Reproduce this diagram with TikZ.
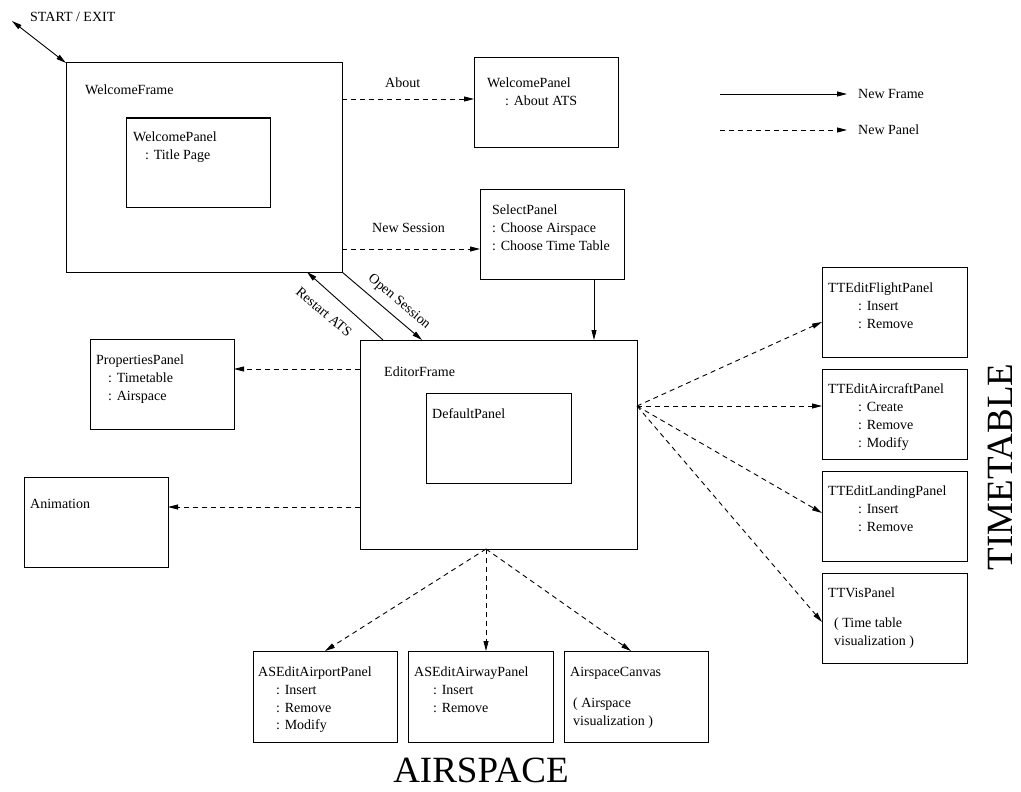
\documentclass[tikz,border=0pt]{standalone}
\usepackage{fontspec}
\setmainfont{Liberation Serif}
\usetikzlibrary{arrows.meta,calc}
\begin{document}
\begin{tikzpicture}[x=1pt,y=-1pt,
  box/.style={draw, line width=1pt, inner sep=0pt, outer sep=0pt, anchor=north west},
  txt/.style={anchor=base west, inner sep=0pt, font=\fontsize{14}{18}\selectfont},
  lbl/.style={inner sep=0pt, font=\fontsize{14}{18}\selectfont},
  big/.style={inner sep=0pt, font=\fontsize{37}{40}\selectfont},
  framearrow/.style={draw, line width=0.9pt, -{Triangle[length=10pt,width=5pt]}},
  panelarrow/.style={framearrow, dash pattern=on 5pt off 4pt},
]
\useasboundingbox (0,0) rectangle (1021,792);

% boxes
\node[box, minimum width=276pt, minimum height=209pt] (wf) at (66,63) {};
\node[box, minimum width=144pt, minimum height=89pt] (wpin) at (126,118) {};
\node[box, minimum width=144pt, minimum height=89pt] (wpab) at (474,58) {};
\node[box, minimum width=144pt, minimum height=90pt] (sp) at (480,189) {};
\node[box, minimum width=144pt, minimum height=90pt] (pp) at (90,339) {};
\node[box, minimum width=144pt, minimum height=90pt] (an) at (24,477) {};
\node[box, minimum width=277pt, minimum height=209pt] (ef) at (360,340) {};
\node[box, minimum width=145pt, minimum height=90pt] (dp) at (426,393) {};
\node[box, minimum width=145pt, minimum height=90pt] (tt1) at (822,267) {};
\node[box, minimum width=145pt, minimum height=90pt] (tt2) at (822,369) {};
\node[box, minimum width=145pt, minimum height=90pt] (tt3) at (822,471) {};
\node[box, minimum width=145pt, minimum height=90pt] (tt4) at (822,573) {};
\node[box, minimum width=144pt, minimum height=91pt] (as1) at (253,651) {};
\node[box, minimum width=145pt, minimum height=91pt] (as2) at (408,651) {};
\node[box, minimum width=144pt, minimum height=91pt] (as3) at (564,651) {};

% texts in boxes
\node[txt] (twf) at (85,95) {WelcomeFrame};
\node[txt] (twpin1) at (133,141) {WelcomePanel};
\node[txt] (twpin2) at (145,159) {: Title Page};
\node[txt] (twpab1) at (487,88) {WelcomePanel};
\node[txt] (twpab2) at (505,106) {: About ATS};
\node[txt] (tsp1) at (492,214) {SelectPanel};
\node[txt] (tsp2) at (492,232) {: Choose Airspace};
\node[txt] (tsp3) at (492,250) {: Choose Time Table};
\node[txt] (tpp1) at (96,364) {PropertiesPanel};
\node[txt] (tpp2) at (108,382) {: Timetable};
\node[txt] (tpp3) at (108,400) {: Airspace};
\node[txt] (tan) at (30,508) {Animation};
\node[txt] (tef) at (384,376) {EditorFrame};
\node[txt] (tdp) at (432,418) {DefaultPanel};
\node[txt] (ttt11) at (828,292) {TTEditFlightPanel};
\node[txt] (ttt12) at (858,310) {: Insert};
\node[txt] (ttt13) at (858,328) {: Remove};
\node[txt] (ttt21) at (828,393) {TTEditAircraftPanel};
\node[txt] (ttt22) at (858,411) {: Create};
\node[txt] (ttt23) at (858,429) {: Remove};
\node[txt] (ttt24) at (858,447) {: Modify};
\node[txt] (ttt31) at (828,495) {TTEditLandingPanel};
\node[txt] (ttt32) at (858,513) {: Insert};
\node[txt] (ttt33) at (858,531) {: Remove};
\node[txt] (ttt41) at (828,597) {TTVisPanel};
\node[txt] (ttt42) at (834,627) {( Time table};
\node[txt] (ttt43) at (834,645) {visualization )};
\node[txt] (tas11) at (258,676) {ASEditAirportPanel};
\node[txt] (tas12) at (276,694) {: Insert};
\node[txt] (tas13) at (276,712) {: Remove};
\node[txt] (tas14) at (276,729) {: Modify};
\node[txt] (tas21) at (414,676) {ASEditAirwayPanel};
\node[txt] (tas22) at (433,694) {: Insert};
\node[txt] (tas23) at (433,712) {: Remove};
\node[txt] (tas31) at (570,676) {AirspaceCanvas};
\node[txt] (tas32) at (573,707) {( Airspace};
\node[txt] (tas33) at (573,725) {visualization )};

% free texts
\node[txt] (tse) at (30,22) {START / EXIT};
\node[txt] (tabout) at (385,88) {About};
\node[txt] (tns) at (372,232) {New Session};
\node[lbl, rotate=-40] (tos) at (399,302) {Open Session};
\node[lbl, rotate=-40] (tra) at (324,312) {Restart ATS};
\node[big, rotate=90] (ttime) at (1000,467) {TIMETABLE};
\node[big] (tair) at (481,770) {AIRSPACE};

% legend
\coordinate (lf1) at (720,94);
\coordinate (lf2) at (847,94);
\coordinate (lp1) at (720,130);
\coordinate (lp2) at (847,130);
\draw[framearrow] (lf1) -- (lf2);
\draw[panelarrow] (lp1) -- (lp2);
\node[txt] (tlf) at (858,99) {New Frame};
\node[txt] (tlp) at (858,135) {New Panel};

% connectors
\coordinate (se) at (12,21);
\draw[framearrow, {Triangle[length=10pt,width=5pt]}-{Triangle[length=10pt,width=5pt]}] (se) -- (wf.north west);
\draw[panelarrow] ($(wf.east |- wpab.west)+(0,-3.5)$) -- ($(wpab.west)+(0,-3.5)$);
\draw[panelarrow] ($(wf.east |- sp.west)+(0,15)$) -- ($(sp.west)+(0,15)$);
\draw[framearrow] ($(ef.north west)+(23,0)$) -- ($(wf.south west)+(241,0)$);
\draw[framearrow] (wf.south east) -- ($(ef.north west)+(62,0)$);
\draw[framearrow] ($(sp.south west)+(114,0)$) -- ($(ef.north west)+(234,0)$);
\draw[panelarrow] ($(ef.north west)+(0,29)$) -- ($(pp.east)+(0,-15)$);
\draw[panelarrow] ($(ef.north west)+(0,167)$) -- ($(an.east)+(0,-15)$);
\draw[panelarrow] ($(ef.north east)+(0,66)$) -- ($(tt1.west)+(0,10)$);
\draw[panelarrow] ($(ef.north east)+(0,66)$) -- ($(tt2.west)+(0,-8)$);
\draw[panelarrow] ($(ef.north east)+(0,66)$) -- ($(tt3.west)+(0,-3)$);
\draw[panelarrow] ($(ef.north east)+(0,66)$) -- ($(tt4.west)+(0,4)$);
\draw[panelarrow] ($(ef.south)+(-12.5,0)$) -- ($(as1.north west)+(72,0)$);
\draw[panelarrow] ($(ef.south)+(-12.5,0)$) -- ($(as2.north west)+(78,0)$);
\draw[panelarrow] ($(ef.south)+(-12.5,0)$) -- ($(as3.north west)+(67,0)$);
\end{tikzpicture}
\end{document}
